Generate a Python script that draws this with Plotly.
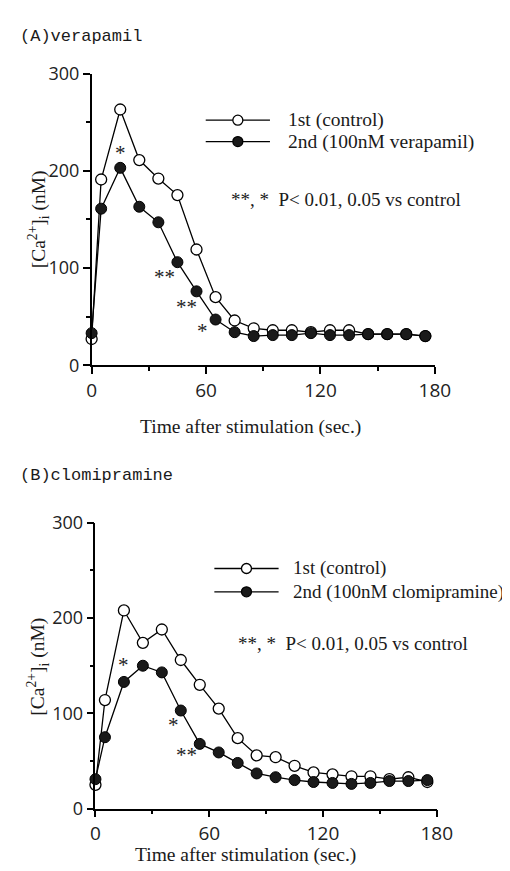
import plotly.graph_objects as go

# ---------------- data ----------------
time_s = [0, 5, 15, 25, 35, 45, 55, 65, 75, 85, 95, 105, 115, 125, 135, 145, 155, 165, 175]

a_control = [27, 191, 263, 211, 192, 175, 119, 70, 46, 38, 36, 36, 34, 36, 36, 32, 32, 32, 30]
a_verapamil = [33, 161, 203, 163, 147, 106, 76, 47, 34, 30, 31, 31, 33, 31, 31, 32, 32, 32, 30]

b_control = [25, 114, 208, 174, 188, 156, 130, 105, 74, 56, 54, 45, 38, 36, 34, 34, 31, 33, 28]
b_clomipramine = [31, 75, 133, 150, 143, 103, 68, 59, 48, 37, 33, 30, 28, 27, 26, 27, 29, 29, 30]

a_sig_x = [15, 38, 50, 58]
a_sig_y = [218, 91, 60, 35]
a_sig_txt = ["*", "**", "**", "*"]

b_sig_x = [15, 41, 48]
b_sig_y = [151, 88, 56]
b_sig_txt = ["*", "*", "**"]

x_ticks = [0, 60, 120, 180]
y_ticks = [0, 100, 200, 300]

W, H = 510, 871
SERIF = "Liberation Serif"
SANS = "Open Sans"


def px(x):
    return x / W


def py(y):
    return 1 - y / H


fig = go.Figure()

line_style = dict(color="black", width=1.3)


def add_pair(ctrl, drug, xa, ya, name_drug):
    fig.add_trace(go.Scatter(
        x=time_s, y=ctrl, mode="lines+markers", name="1st (control)",
        line=line_style, cliponaxis=False,
        marker=dict(symbol="circle", size=11, color="white",
                    line=dict(color="black", width=1.3)),
        xaxis=xa, yaxis=ya, showlegend=False))
    fig.add_trace(go.Scatter(
        x=time_s, y=drug, mode="lines+markers", name=name_drug,
        line=line_style, cliponaxis=False,
        marker=dict(symbol="circle", size=11, color="#1a1a1a",
                    line=dict(color="black", width=1)),
        xaxis=xa, yaxis=ya, showlegend=False))


add_pair(a_control, a_verapamil, "x", "y", "2nd (100nM verapamil)")
add_pair(b_control, b_clomipramine, "x2", "y2", "2nd (100nM clomipramine)")

axis_common = dict(
    showline=True, linecolor="black", linewidth=1.5,
    ticks="outside", ticklen=7, tickwidth=1.5, tickcolor="black",
    showgrid=False, zeroline=False,
)
xfont = dict(family=SANS, size=19, color="#222")
yfont = dict(family=SANS, size=18, color="#222")
xminor = dict(tickvals=[30, 90, 150], ticklen=4, ticks="outside",
              tickwidth=1.5, tickcolor="black")
yminor = dict(tickvals=[50, 150, 250], ticklen=4, ticks="outside",
              tickwidth=1.5, tickcolor="black")

fig.update_layout(
    width=W, height=H,
    margin=dict(l=0, r=0, t=0, b=0),
    paper_bgcolor="white", plot_bgcolor="white",
    showlegend=False,
    xaxis=dict(domain=[px(82), px(440)], range=[0, 180], tickvals=x_ticks,
               minor=xminor, anchor="y", tickfont=xfont, **axis_common),
    yaxis=dict(domain=[py(354), py(54)], range=[0, 300], tickvals=y_ticks,
               minor=yminor, anchor="x", tickfont=yfont, **axis_common),
    xaxis2=dict(domain=[px(86), px(442)], range=[0, 180], tickvals=x_ticks,
                minor=xminor, anchor="y2", tickfont=xfont, **axis_common),
    yaxis2=dict(domain=[py(810), py(516)], range=[0, 300], tickvals=y_ticks,
                minor=yminor, anchor="x2", tickfont=yfont, **axis_common),
)

ann = []
shapes = []

# significance markers
for xs, ys, ts, xr, yr in [(a_sig_x, a_sig_y, a_sig_txt, "x", "y"),
                           (b_sig_x, b_sig_y, b_sig_txt, "x2", "y2")]:
    for xv, yv, tv in zip(xs, ys, ts):
        ann.append(dict(x=xv, y=yv, xref=xr, yref=yr, text=tv, showarrow=False,
                        font=dict(family=SERIF, size=21, color="#222")))


def paper_text(x, y, text, size=19.5, family=SERIF, xanchor="left", angle=0):
    ann.append(dict(x=px(x), y=py(y), xref="paper", yref="paper", text=text,
                    showarrow=False, xanchor=xanchor, yanchor="middle",
                    textangle=angle,
                    font=dict(family=family, size=size, color="#1a1a1a")))


def legend_item(x0, x1, y, filled):
    shapes.append(dict(type="line", xref="paper", yref="paper",
                       x0=px(x0), x1=px(x1), y0=py(y), y1=py(y),
                       line=dict(color="black", width=1.3)))
    xc = (x0 + x1) / 2
    shapes.append(dict(type="circle", xref="paper", yref="paper",
                       xsizemode="pixel", ysizemode="pixel",
                       xanchor=px(xc), yanchor=py(y),
                       x0=-5, x1=5, y0=-5, y1=5,
                       fillcolor="#1a1a1a" if filled else "white",
                       line=dict(color="black", width=1.3)))


# panel A
paper_text(5, 16, "(A)verapamil", size=17, family="Liberation Mono")
legend_item(201, 268, 102, False)
legend_item(201, 268, 124, True)
paper_text(285, 102, "1st (control)")
paper_text(285, 124, "2nd (100nM verapamil)")
paper_text(225, 184, "**, *  P< 0.01, 0.05 vs control", size=19)
paper_text(26, 204, "[Ca<sup>2+</sup>]<sub>i</sub> (nM)", angle=-90, xanchor="center")
paper_text(248, 417, "Time after stimulation (sec.)", xanchor="center")

# panel B
paper_text(5, 467, "(B)clomipramine", size=17, family="Liberation Mono")
legend_item(210, 277, 563, False)
legend_item(210, 277, 587, True)
paper_text(290, 563, "1st (control)", size=19)
paper_text(290, 587, "2nd (100nM clomipramine)", size=19)
paper_text(233, 640, "**, *  P< 0.01, 0.05 vs control", size=19)
paper_text(26, 664, "[Ca<sup>2+</sup>]<sub>i</sub> (nM)", angle=-90, xanchor="center")
paper_text(242, 858, "Time after stimulation (sec.)", xanchor="center")

fig.update_layout(annotations=ann, shapes=shapes)

fig.write_html("out.html")
